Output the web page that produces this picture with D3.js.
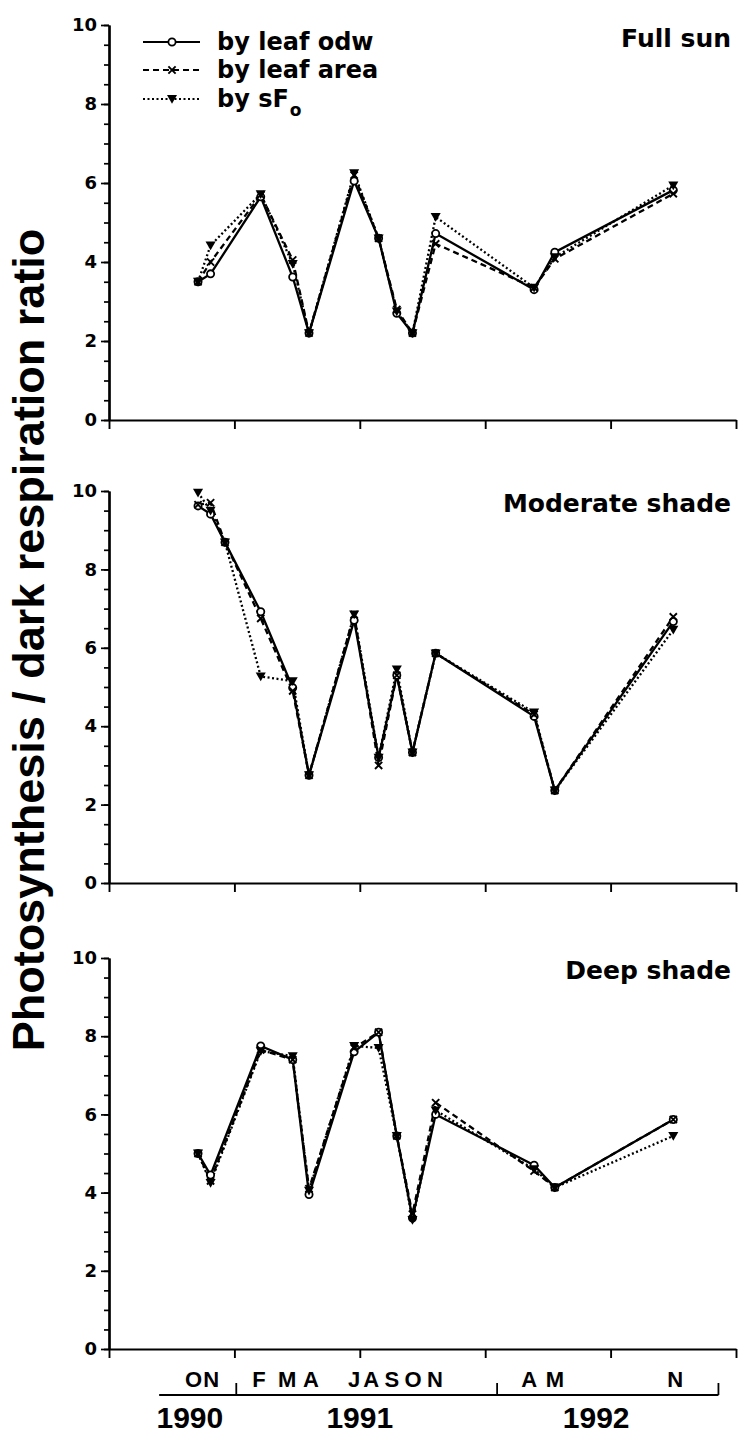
<!DOCTYPE html>
<html>
<head>
<meta charset="utf-8">
<script src="https://cdn.jsdelivr.net/npm/d3@7/dist/d3.min.js"></script>
<style>
  body { margin: 0; background: #fff; }
  svg text { font-family: "DejaVu Sans", sans-serif; font-weight: bold; fill: #000; }
  .axis path, .axis line { stroke: #000; }
</style>
</head>
<body>
<div id="chart"></div>
<script>
// sampling dates, in days from the start of the x axis
const dates = [142, 162, 242, 293, 319, 391, 430, 459, 484, 521, 678, 711, 900];
const datesModerate = [142, 162, 185, 242, 293, 319, 391, 430, 459, 484, 521, 678, 711, 900];

// Full sun
const sunOdw  = [3.5, 3.7, 5.65, 3.62, 2.2, 6.05, 4.6, 2.7, 2.2, 4.72, 3.3, 4.25, 5.82];
const sunArea = [3.5, 4.0, 5.7, 4.05, 2.2, 6.2, 4.6, 2.8, 2.2, 4.46, 3.35, 4.08, 5.73];
const sunSfo  = [3.5, 4.42, 5.72, 3.95, 2.2, 6.25, 4.6, 2.75, 2.2, 5.14, 3.35, 4.12, 5.94];

// Moderate shade
const modOdw  = [9.62, 9.41, 8.69, 6.92, 4.98, 2.75, 6.7, 3.2, 5.3, 3.33, 5.86, 4.25, 2.36, 6.67];
const modArea = [9.65, 9.7, 8.69, 6.75, 4.9, 2.75, 6.85, 3.0, 5.3, 3.33, 5.86, 4.3, 2.36, 6.79];
const modSfo  = [9.96, 9.5, 8.69, 5.27, 5.15, 2.75, 6.85, 3.2, 5.45, 3.33, 5.86, 4.35, 2.36, 6.46];

// Deep shade
const deepOdw  = [5.0, 4.45, 7.75, 7.4, 3.95, 7.6, 8.1, 5.45, 3.35, 6.0, 4.7, 4.13, 5.87];
const deepArea = [5.0, 4.3, 7.65, 7.4, 4.1, 7.7, 8.1, 5.45, 3.45, 6.3, 4.55, 4.13, 5.87];
const deepSfo  = [5.0, 4.25, 7.62, 7.49, 4.05, 7.75, 7.7, 5.45, 3.3, 6.1, 4.6, 4.13, 5.45];

// x axis labels
const monthLabels = ["O", "N", "F", "M", "A", "J", "A", "S", "O", "N", "A", "M", "N"];
const monthDays   = [135, 163, 239, 284, 322, 391, 418, 451, 485, 520, 670, 711, 903];
const yearLabels  = ["1990", "1991", "1992"];
const yearDays    = [129, 400, 777];
const yearBar     = [80, 972];
const yearBreaks  = [203, 619];

const yLabelTicks = [0, 2, 4, 6, 8, 10];
const xTicks = [0, 200, 400, 600, 800, 1000];

const legendLabels = ["by leaf odw", "by leaf area", "by sF"];

const width = 740, height = 1436;
const svg = d3.select("#chart").append("svg")
  .attr("width", width)
  .attr("height", height)
  .style("background", "#fff");

const x = d3.scaleLinear().domain([0, 1000]).range([109, 736]);

const panels = [
  {title: "Full sun", top: 25, bottom: 420, dates: dates, series: [sunOdw, sunArea, sunSfo]},
  {title: "Moderate shade", top: 491, bottom: 883, dates: datesModerate, series: [modOdw, modArea, modSfo]},
  {title: "Deep shade", top: 958, bottom: 1349, dates: dates, series: [deepOdw, deepArea, deepSfo]}
];

const dashes = [null, "6,4", "2,2.5"];

const line = d3.line()
  .x(function(d) { return x(d[0]); })
  .y(function(d) { return d.y; });

function drawMarker(g, type, px, py) {
  if (type === 0) {
    g.append("circle").attr("cx", px).attr("cy", py).attr("r", 3.6)
      .attr("fill", "#fff").attr("stroke", "#000").attr("stroke-width", 1.8);
  } else if (type === 1) {
    g.append("path")
      .attr("d", "M-3.6,-3.6L3.6,3.6M-3.6,3.6L3.6,-3.6")
      .attr("transform", "translate(" + px + "," + py + ")")
      .attr("stroke", "#000").attr("stroke-width", 1.9).attr("fill", "none");
  } else {
    g.append("path")
      .attr("d", d3.symbol(d3.symbolTriangle, 44)())
      .attr("transform", "translate(" + px + "," + (py - 1) + ") rotate(180)")
      .attr("fill", "#000");
  }
}

panels.forEach(function(p, pi) {
  const y = d3.scaleLinear().domain([0, 10]).range([p.bottom, p.top]);
  const g = svg.append("g");

  // y axis: minor ticks every 0.5, labels every 2
  g.append("g")
    .attr("class", "axis")
    .attr("transform", "translate(109,0)")
    .call(d3.axisLeft(y).tickValues(d3.range(0, 10.01, 0.5)).tickSize(5).tickSizeOuter(0).tickFormat(""))
    .call(function(a) { a.selectAll("line").attr("stroke-width", 1.7); a.select(".domain").attr("stroke-width", 2.2); });

  g.append("g")
    .attr("class", "axis")
    .attr("transform", "translate(109,0)")
    .call(d3.axisLeft(y).tickValues(yLabelTicks).tickSize(8).tickPadding(4).tickSizeOuter(0))
    .call(function(a) {
      a.selectAll("line").attr("stroke-width", 1.7);
      a.select(".domain").attr("stroke-width", 2.2);
      a.selectAll("text").style("font-size", "18px").style("font-family", "DejaVu Sans").style("font-weight", "bold");
    });

  // x axis
  g.append("g")
    .attr("class", "axis")
    .attr("transform", "translate(0," + p.bottom + ")")
    .call(d3.axisBottom(x).tickValues(xTicks).tickSize(9).tickSizeOuter(0).tickFormat(""))
    .call(function(a) { a.selectAll("line").attr("stroke-width", 1.9); a.select(".domain").attr("stroke-width", 2.2); });

  // title
  g.append("text")
    .attr("x", 731)
    .attr("y", p.top + (pi === 0 ? 22 : 21))
    .attr("text-anchor", "end")
    .style("font-size", "25px")
    .text(p.title);

  // lines, dotted first, then dashed, solid on top
  [2, 1, 0].forEach(function(si) {
    const pts = p.dates.map(function(d, i) { return {0: d, y: y(p.series[si][i])}; });
    g.append("path")
      .attr("d", line(pts))
      .attr("fill", "none")
      .attr("stroke", "#000")
      .attr("stroke-width", 2.3)
      .attr("stroke-dasharray", dashes[si]);
  });

  // markers
  [0, 1, 2].forEach(function(si) {
    p.dates.forEach(function(d, i) {
      drawMarker(g, si, x(d), y(p.series[si][i]));
    });
  });
});

// legend
const legendY = [42, 70, 99];
legendLabels.forEach(function(lab, i) {
  const lg = svg.append("g");
  lg.append("line")
    .attr("x1", 143).attr("x2", 200)
    .attr("y1", legendY[i]).attr("y2", legendY[i])
    .attr("stroke", "#000").attr("stroke-width", 2.2)
    .attr("stroke-dasharray", dashes[i]);
  drawMarker(lg, i, 172, legendY[i]);
  const t = lg.append("text")
    .attr("x", 217)
    .attr("y", legendY[i] + 8)
    .style("font-size", "24px")
    .text(lab);
  if (i === 2) {
    t.append("tspan").attr("dx", 1).attr("dy", 9).style("font-size", "17px").text("o");
  }
});

// y axis title
svg.append("text")
  .attr("transform", "translate(44,640) rotate(-90)")
  .attr("text-anchor", "middle")
  .style("font-family", "'Liberation Sans', Arial, sans-serif")
  .style("font-size", "45px")
  .text("Photosynthesis / dark respiration ratio");

// month letters
svg.append("g").selectAll("text")
  .data(monthLabels)
  .enter()
  .append("text")
  .attr("x", function(d, i) { return x(monthDays[i]); })
  .attr("y", 1387)
  .attr("text-anchor", "middle")
  .style("font-family", "'Liberation Sans', Arial, sans-serif")
  .style("font-size", "22px")
  .text(function(d) { return d; });

// year bar
svg.append("line")
  .attr("x1", x(yearBar[0])).attr("x2", x(yearBar[1]))
  .attr("y1", 1395).attr("y2", 1395)
  .attr("stroke", "#000").attr("stroke-width", 2);
yearBreaks.concat([yearBar[1]]).forEach(function(d) {
  svg.append("line")
    .attr("x1", x(d)).attr("x2", x(d))
    .attr("y1", 1383).attr("y2", 1395)
    .attr("stroke", "#000").attr("stroke-width", 1.8);
});

svg.append("g").selectAll("text")
  .data(yearLabels)
  .enter()
  .append("text")
  .attr("x", function(d, i) { return x(yearDays[i]); })
  .attr("y", 1428)
  .attr("text-anchor", "middle")
  .style("font-family", "'Liberation Sans', Arial, sans-serif")
  .style("font-size", "30px")
  .text(function(d) { return d; });
</script>
</body>
</html>
